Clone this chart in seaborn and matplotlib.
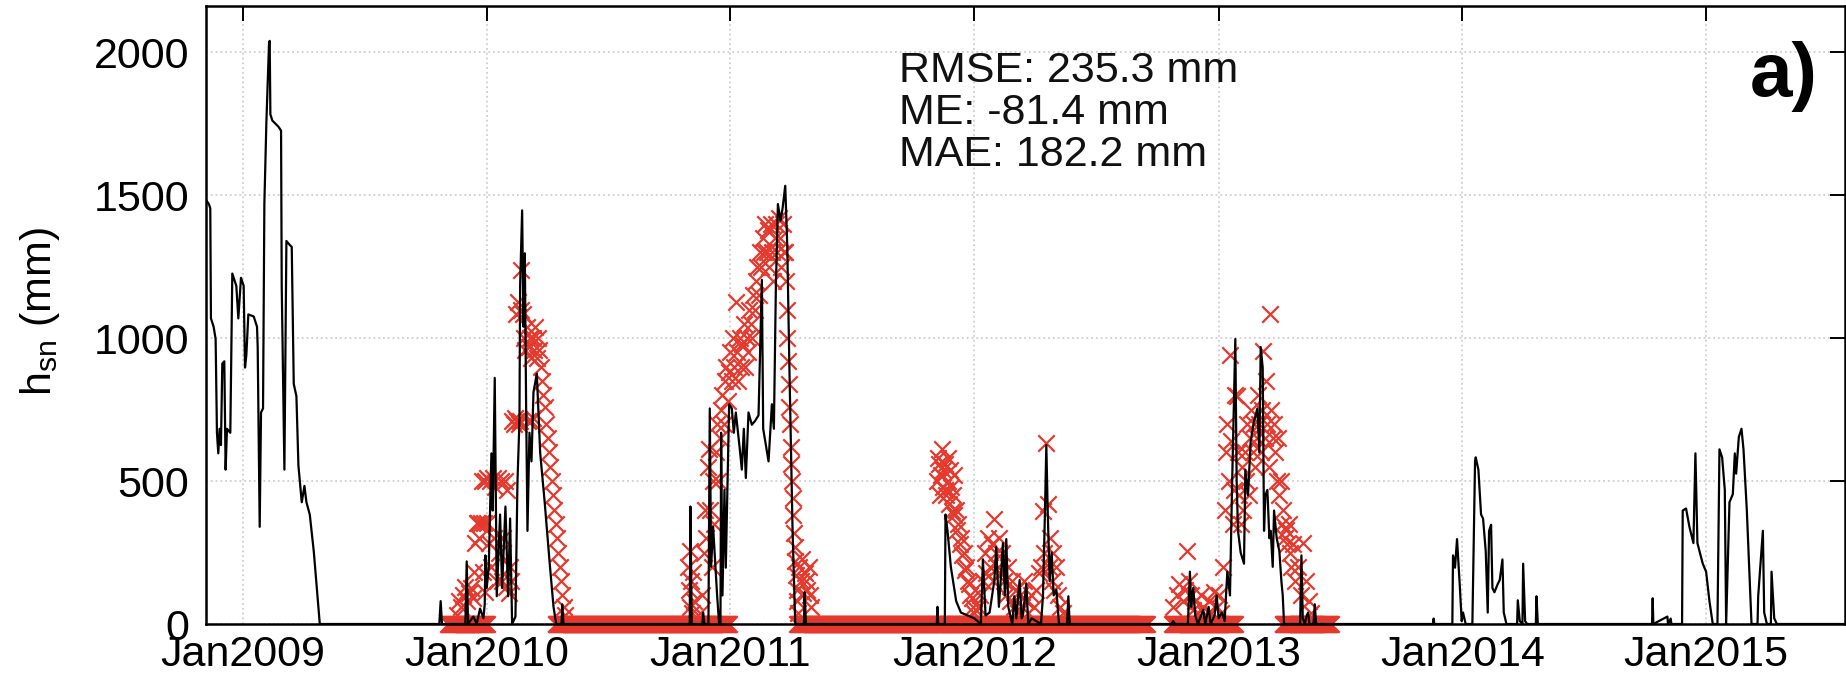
import numpy as np
import pandas as pd
import matplotlib
matplotlib.use("Agg")
import matplotlib.pyplot as plt
import matplotlib.dates as mdates
import seaborn as sns

sns.set_theme(style="white")
plt.rcParams["font.family"] = ["Liberation Sans", "DejaVu Sans"]
plt.rcParams["mathtext.fontset"] = "custom"
plt.rcParams["mathtext.rm"] = "Liberation Sans"
plt.rcParams["mathtext.it"] = "Liberation Sans:italic"

# ---------------- data (day number since 2009-01-01, snow depth in mm) -------------
BASE = pd.Timestamp("2009-01-01")

model_0809 = [(-60, 1490), (-56, 1485), (-51, 1469), (-49, 1454), (-48, 1069), (-44, 1040),
              (-41, 997), (-39, 669), (-37, 597), (-35, 683), (-33, 626), (-31, 911), (-28, 919),
              (-26, 540), (-24, 683), (-19, 669), (-16, 1226), (-10, 1183), (-7, 1069), (-3, 1211),
              (1, 1183), (3, 897), (5, 940), (8, 1083), (16, 1076), (21, 1040), (22, 969), (25, 340),
              (27, 740), (30, 754), (32, 1469), (35, 1754), (39, 2033), (40, 2040), (41, 1783),
              (44, 1761), (53, 1740), (57, 1726), (58, 1183), (62, 540), (65, 1340), (70, 1326),
              (73, 1319), (76, 840), (80, 797), (83, 554), (88, 426), (92, 483), (95, 426),
              (100, 383), (106, 254), (111, 111), (115, 0)]
model_0910 = [(294, 0), (296, 80), (298, 0), (333, 0), (335, 219), (337, 0), (345, 26), (350, 0),
              (355, 54), (360, 20), (362, 69), (363, 240), (365, 126), (368, 197), (372, 597),
              (374, 397), (377, 861), (380, 97), (385, 383), (388, 126), (393, 411), (397, 97),
              (400, 369), (403, 0), (408, 26), (411, 497), (414, 711), (415, 1183), (418, 1447),
              (420, 1040), (422, 1297), (424, 754), (426, 326), (429, 669), (432, 569), (435, 811),
              (440, 876), (445, 600), (452, 420), (459, 220), (465, 60), (469, 0), (477, 0),
              (478, 69), (480, 0)]
model_1011 = [(664, 0), (669, 0), (670, 411), (672, 0), (688, 0), (689, 40), (691, 0), (697, 0),
              (699, 754), (701, 200), (704, 340), (706, 260), (710, 100), (713, 0), (715, 0),
              (716, 669), (718, 100), (721, 469), (723, 197), (728, 769), (732, 754), (735, 669),
              (738, 740), (744, 611), (747, 540), (750, 683), (753, 511), (757, 740), (762, 697),
              (767, 711), (772, 730), (777, 1204), (779, 683), (787, 569), (792, 769), (795, 683),
              (798, 1183), (801, 1469), (805, 1411), (808, 1454), (812, 1533), (815, 1326),
              (818, 926), (823, 326), (827, 0), (840, 0), (841, 111), (843, 0)]
model_1112 = [(1039, 0), (1040, 60), (1041, 0), (1051, 0), (1052, 383), (1055, 326), (1060, 200),
              (1068, 80), (1075, 40), (1085, 30), (1095, 20), (1105, 0), (1108, 226), (1112, 30),
              (1118, 40), (1125, 150), (1128, 269), (1132, 60), (1136, 200), (1138, 283),
              (1141, 100), (1143, 297), (1146, 60), (1148, 40), (1152, 0), (1155, 97), (1158, 20),
              (1163, 154), (1166, 20), (1168, 30), (1173, 140), (1176, 0), (1181, 20), (1195, 0),
              (1198, 100), (1201, 400), (1203, 626), (1205, 400), (1208, 150), (1211, 250),
              (1214, 100), (1218, 120), (1222, 0), (1234, 0), (1236, 97), (1238, 0)]
model_1213 = [(1390, 0), (1393, 10), (1396, 0), (1415, 0), (1418, 183), (1420, 60), (1423, 126),
              (1426, 30), (1430, 0), (1438, 50), (1441, 0), (1446, 60), (1449, 0), (1455, 30),
              (1458, 100), (1461, 20), (1466, 40), (1470, 10), (1474, 183), (1478, 100),
              (1481, 469), (1486, 997), (1488, 500), (1490, 326), (1494, 250), (1499, 211),
              (1501, 540), (1505, 450), (1509, 640), (1514, 709), (1519, 754), (1522, 600),
              (1524, 969), (1527, 897), (1529, 326), (1531, 450), (1534, 469), (1537, 300),
              (1539, 326), (1542, 200), (1544, 397), (1548, 300), (1552, 254), (1555, 150),
              (1557, 100), (1559, 0), (1583, 0), (1585, 240), (1587, 20), (1590, 0), (1593, 30),
              (1595, 40), (1597, 0), (1603, 0), (1605, 69), (1607, 0)]
model_1314 = [(1782, 0), (1783, 19), (1784, 0), (1811, 0), (1812, 240), (1815, 197), (1818, 297),
              (1822, 140), (1825, 10), (1827, 40), (1831, 0), (1841, 0), (1845, 569), (1846, 583),
              (1850, 540), (1854, 383), (1857, 369), (1861, 254), (1864, 40), (1866, 326),
              (1869, 347), (1871, 126), (1874, 111), (1879, 140), (1882, 154), (1886, 226),
              (1888, 40), (1892, 0), (1908, 0), (1909, 83), (1912, 10), (1916, 0), (1917, 211),
              (1920, 10), (1923, 0), (1936, 0), (1937, 97), (1939, 0)]
model_1415 = [(2110, 0), (2111, 90), (2112, 0), (2133, 26), (2134, 0), (2138, 19), (2139, 0),
              (2155, 0), (2156, 397), (2161, 404), (2166, 340), (2172, 283), (2175, 597),
              (2178, 283), (2186, 211), (2191, 183), (2196, 80), (2201, 0), (2208, 0), (2211, 611),
              (2215, 583), (2219, 469), (2221, 0), (2224, 254), (2226, 426), (2231, 454),
              (2234, 597), (2236, 526), (2240, 654), (2244, 683), (2247, 611), (2252, 397),
              (2257, 111), (2259, 0), (2268, 0), (2269, 97), (2273, 226), (2276, 326), (2278, 40),
              (2282, 0), (2288, 0), (2289, 183), (2293, 20), (2297, 0), (2410, 0)]

obs_0910 = [(320, 30), (323, 80), (326, 60), (329, 100), (332, 130), (335, 80), (338, 110),
            (341, 126), (344, 90), (346, 183), (348, 283), (350, 354), (352, 354), (354, 300),
            (356, 354), (358, 500), (359, 183), (361, 354), (362, 111), (363, 500), (365, 354),
            (366, 510), (368, 283), (370, 500), (372, 200), (374, 510), (376, 300), (378, 480),
            (380, 150), (382, 510), (384, 250), (386, 500), (388, 150), (390, 300), (392, 500),
            (394, 130), (396, 469), (398, 110), (400, 200), (402, 150), (403, 709), (406, 700),
            (407, 720), (409, 1083), (410, 709), (412, 1126), (413, 700), (415, 709), (416, 1100),
            (417, 1240), (419, 1083), (421, 1000), (423, 960), (425, 1040), (427, 709),
            (428, 970), (430, 1000), (431, 709), (432, 930), (434, 1000), (435, 720), (436, 960),
            (438, 1040), (440, 930), (442, 1000), (444, 960), (446, 900), (448, 850), (450, 800),
            (452, 760), (454, 700), (456, 650), (458, 600), (460, 550), (462, 500), (464, 450),
            (466, 400), (468, 350), (470, 300), (472, 250), (474, 200), (476, 150), (478, 100),
            (480, 60), (482, 30)]
obs_1011 = [(667, 200), (668, 120), (669, 60), (670, 254), (671, 150), (672, 40), (674, 183),
            (676, 80), (684, 40), (688, 100), (690, 250), (692, 400), (694, 300), (696, 550),
            (698, 611), (700, 400), (702, 200), (704, 500), (706, 350), (708, 600), (710, 700),
            (712, 500), (714, 650), (716, 750), (718, 800), (720, 700), (722, 850), (724, 900),
            (726, 780), (728, 880), (730, 950), (732, 850), (734, 1000), (736, 900), (738, 1126),
            (740, 950), (742, 850), (744, 1000), (746, 900), (748, 980), (750, 1050), (752, 900),
            (754, 1000), (756, 950), (758, 1100), (760, 1050), (762, 1000), (764, 1150),
            (766, 1100), (768, 1200), (770, 1250), (772, 1150), (774, 1300), (776, 1250),
            (778, 1350), (780, 1300), (782, 1400), (784, 1300), (786, 1380), (788, 1250),
            (790, 1400), (792, 1300), (794, 1200), (796, 1350), (798, 1400), (800, 1300),
            (802, 1420), (804, 1350), (806, 1250), (808, 1400), (810, 1300), (812, 1300),
            (813, 1200), (814, 1100), (815, 1000), (816, 920), (817, 840), (818, 760), (819, 700),
            (820, 620), (821, 560), (822, 500), (823, 440), (824, 380), (825, 320), (826, 270),
            (827, 220), (828, 170), (829, 120), (830, 80), (831, 40), (833, 200), (835, 150),
            (837, 226), (839, 110), (841, 180), (843, 150), (845, 120), (847, 200), (849, 100),
            (851, 60)]
obs_1112 = [(1039, 500), (1041, 580), (1043, 560), (1044, 450), (1045, 520), (1047, 611),
            (1048, 540), (1049, 480), (1051, 560), (1052, 470), (1053, 450), (1055, 500),
            (1056, 580), (1057, 420), (1059, 540), (1060, 480), (1061, 397), (1063, 450),
            (1064, 520), (1065, 380), (1067, 400), (1069, 330), (1071, 350), (1073, 280),
            (1075, 300), (1077, 240), (1079, 250), (1081, 190), (1083, 200), (1085, 150),
            (1087, 140), (1089, 100), (1091, 90), (1093, 60), (1095, 40), (1100, 60), (1104, 100),
            (1108, 150), (1111, 250), (1113, 180), (1116, 300), (1118, 200), (1121, 280),
            (1123, 150), (1125, 369), (1127, 250), (1130, 200), (1132, 300), (1134, 180),
            (1137, 250), (1140, 150), (1143, 100), (1146, 200), (1149, 80), (1152, 150),
            (1155, 60), (1158, 120), (1161, 40), (1164, 100), (1167, 60), (1170, 150), (1173, 80),
            (1176, 40), (1180, 100), (1184, 60), (1188, 120), (1192, 180), (1195, 200),
            (1198, 397), (1200, 250), (1203, 633), (1205, 420), (1207, 200), (1209, 300),
            (1211, 150), (1213, 250), (1215, 120), (1218, 200), (1221, 100), (1224, 60),
            (1228, 40)]
obs_1213 = [(1393, 60), (1398, 100), (1402, 140), (1407, 80), (1411, 120), (1413, 254),
            (1416, 150), (1419, 100), (1422, 50), (1426, 80), (1430, 40), (1434, 100), (1438, 60),
            (1442, 30), (1446, 80), (1450, 40), (1454, 111), (1458, 60), (1462, 100), (1465, 40),
            (1468, 200), (1470, 400), (1472, 600), (1474, 700), (1476, 500), (1478, 940),
            (1480, 640), (1482, 350), (1484, 469), (1486, 800), (1488, 797), (1490, 600),
            (1492, 450), (1494, 350), (1496, 550), (1498, 400), (1500, 600), (1502, 500),
            (1504, 700), (1506, 450), (1508, 650), (1510, 750), (1512, 600), (1514, 700),
            (1516, 550), (1518, 650), (1520, 800), (1522, 700), (1524, 600), (1526, 750),
            (1528, 954), (1530, 650), (1532, 850), (1534, 700), (1536, 550), (1538, 1083),
            (1540, 750), (1542, 650), (1544, 700), (1546, 600), (1548, 500), (1550, 650),
            (1552, 450), (1554, 500), (1556, 350), (1558, 400), (1560, 300), (1562, 330),
            (1564, 280), (1566, 350), (1568, 250), (1570, 200), (1573, 280), (1576, 150),
            (1580, 200), (1584, 100), (1588, 283), (1592, 150), (1596, 80), (1600, 40)]
# periods (first day, last day) with daily observations of zero snow depth
obs_zero_start = [307, 468, 830, 1391, 1557]
obs_zero_end = [365, 728, 1353, 1485, 1629]

xtick_years = [2009, 2010, 2011, 2012, 2013, 2014, 2015]
yticks = [0, 500, 1000, 1500, 2000]
stats_lines = ["RMSE: 235.3 mm", "ME: -81.4 mm", "MAE: 182.2 mm"]
panel_label = "a)"
ylabel = r"h$_{\mathrm{sn}}$ (mm)"

# ---------------- tables ----------------
def to_df(pairs):
    d = pd.DataFrame(pairs, columns=["day", "hsn"])
    d["date"] = BASE + pd.to_timedelta(d["day"], unit="D")
    return d

model_df = to_df(model_0809 + model_0910 + model_1011 + model_1112 + model_1213
                 + model_1314 + model_1415)
zero_pairs = [(int(dd), 0) for s, e in zip(obs_zero_start, obs_zero_end)
              for dd in range(s, e + 1)]
obs_df = to_df(zero_pairs + obs_0910 + obs_1011 + obs_1112 + obs_1213)

RED = "#e5392e"

# ---------------- figure ----------------
fig = plt.figure(figsize=(18.46, 6.82), dpi=100)
ax = fig.add_axes([206 / 1846, 1 - 624 / 682, 1639 / 1846, 618 / 682])

sns.scatterplot(data=obs_df, x="date", y="hsn", marker="x", color=RED, s=140,
                linewidth=1.6, ax=ax, zorder=2, clip_on=False, legend=False)
sns.lineplot(data=model_df, x="date", y="hsn", color="black", linewidth=1.6,
             estimator=None, ax=ax, zorder=3, legend=False)

ax.set_xlim(BASE + pd.Timedelta(days=-55.4), BASE + pd.Timedelta(days=2399))
ax.set_ylim(0, 2162)
ax.set_xticks([pd.Timestamp(f"{y}-01-01") for y in xtick_years])
ax.xaxis.set_major_formatter(mdates.DateFormatter("%b%Y"))
ax.set_yticks(yticks)

ax.grid(True, color="#cfcfcf", linestyle=":", linewidth=1.3)
ax.set_axisbelow(True)
for sp in ax.spines.values():
    sp.set_color("black")
    sp.set_linewidth(1.8)
ax.tick_params(axis="both", direction="in", length=11, width=1.4, top=True, right=True,
               labelsize=31, colors="black")
ax.tick_params(axis="x", pad=8)
ax.tick_params(axis="y", pad=12)

ax.set_xlabel("")
ax.set_ylabel(ylabel, fontsize=31, color="black")
ax.yaxis.set_label_coords(-0.088, 0.505)

for i, line in enumerate(stats_lines):
    fig.text(899 / 1846, 1 - (71 + 41.8 * i) / 682, line, fontsize=31, ha="left",
             va="center", color="#111111")
fig.text(1784 / 1846, 1 - 77 / 682, panel_label, fontsize=55, fontweight="bold",
         ha="center", va="center", color="black")

fig.savefig("out.png", dpi=100)
